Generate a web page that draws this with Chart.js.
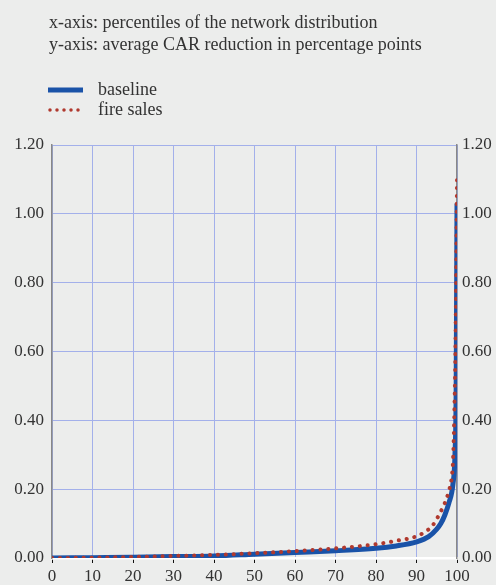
<!DOCTYPE html>
<html>
<head>
<meta charset="utf-8">
<script src="https://cdn.jsdelivr.net/npm/chart.js@4.4.1/dist/chart.umd.min.js"></script>
<style>
  html, body { margin: 0; padding: 0; background: #ecedec; }
  #wrap { position: relative; width: 496px; height: 585px; overflow: hidden; }
  #chart { position: absolute; left: 0; top: 0; }
  .txt { position: absolute; font-family: "Liberation Serif", "Times New Roman", serif; font-size: 18px; color: #333; white-space: nowrap; line-height: 22px; }
  .leg svg { position: absolute; left: -50px; top: 9px; }
</style>
</head>
<body>
<div id="wrap">
  <canvas id="chart" width="496" height="585"></canvas>
  <div class="txt" style="left:49px; top:11px;">x-axis: percentiles of the network distribution</div>
  <div class="txt" style="left:49px; top:33px;">y-axis: average CAR reduction in percentage points</div>
  <div class="txt leg" style="left:98px; top:78px;">
    <svg width="36" height="6"><line x1="0" y1="3" x2="35" y2="3" stroke="#1a53a8" stroke-width="5"/></svg>baseline</div>
  <div class="txt leg" style="left:98px; top:98px;">
    <svg width="36" height="6"><line x1="2" y1="3" x2="35" y2="3" stroke="#b0392e" stroke-width="3.5" stroke-linecap="round" stroke-dasharray="0 7"/></svg>fire sales</div>
</div>
<script>
// Datos
const percentiles = [0, 10, 20, 30, 40, 50, 60, 70, 80, 85, 90, 93, 95, 96, 97, 98, 99, 99.5, 99.8, 100];
const baseline = [0.0, 0.001, 0.002, 0.004, 0.006, 0.011, 0.016, 0.021, 0.028, 0.035, 0.047, 0.062, 0.084, 0.100, 0.125, 0.16, 0.215, 0.30, 0.50, 1.03];

const percentilesFire = [0, 10, 20, 30, 40, 50, 60, 70, 80, 85, 90, 92, 94, 96, 97, 98, 98.7, 99, 99.3, 99.6, 100];
const fireSales = [0.0, 0.001, 0.003, 0.006, 0.009, 0.014, 0.02, 0.028, 0.04, 0.05, 0.063, 0.075, 0.095, 0.135, 0.16, 0.195, 0.235, 0.28, 0.40, 0.60, 1.10];

const xTicks = [0, 10, 20, 30, 40, 50, 60, 70, 80, 90, 100];
const yTicks = [0, 0.2, 0.4, 0.6, 0.8, 1.0, 1.2];

const toPoints = (xs, ys) => xs.map((x, i) => ({ x: x, y: ys[i] }));

const font = { family: "'Liberation Serif', 'Times New Roman', serif", size: 17 };
const gridBlue = "#a3b0ea";

new Chart(document.querySelector("#chart"), {
    type: "line",
    data: {
        datasets: [{
            label: "baseline",
            data: toPoints(percentiles, baseline),
            borderColor: "#1a53a8",
            borderWidth: 5,
            pointRadius: 0,
            cubicInterpolationMode: "monotone",
            order: 2
        }, {
            label: "fire sales",
            data: toPoints(percentilesFire, fireSales),
            borderColor: "#b0392e",
            borderWidth: 4,
            borderDash: [0.1, 7.8],
            borderCapStyle: "round",
            pointRadius: 0,
            cubicInterpolationMode: "monotone",
            order: 1
        }]
    },
    options: {
        responsive: false,
        animation: false,
        layout: { padding: { top: 145, left: 0, right: 0, bottom: 0 } },
        plugins: { legend: { display: false }, tooltip: { enabled: false } },
        scales: {
            x: {
                type: "linear",
                min: 0,
                max: 100,
                afterBuildTicks: s => { s.ticks = xTicks.map(v => ({ value: v })); },
                afterFit: s => { s.height = 27; },
                ticks: { font: font, color: "#333", padding: 3, maxRotation: 0 },
                grid: { color: gridBlue, tickColor: "#111", tickLength: 5, lineWidth: 1 },
                border: { color: "#ffffff", width: 2.5 }
            },
            y: {
                position: "left",
                min: 0,
                max: 1.2,
                afterBuildTicks: s => { s.ticks = yTicks.map(v => ({ value: v })); },
                afterFit: s => { s.width = 52; },
                ticks: { font: font, color: "#333", padding: 8, callback: v => v.toFixed(2) },
                grid: { color: gridBlue, drawTicks: false, lineWidth: 1 },
                border: { color: "#888", width: 1.5 }
            },
            y1: {
                position: "right",
                min: 0,
                max: 1.2,
                afterBuildTicks: s => { s.ticks = yTicks.map(v => ({ value: v })); },
                afterFit: s => { s.width = 39; },
                ticks: { font: font, color: "#333", padding: 5, callback: v => v.toFixed(2) },
                grid: { drawOnChartArea: false, drawTicks: false },
                border: { color: "#888", width: 1.5 }
            }
        }
    }
});
</script>
</body>
</html>
